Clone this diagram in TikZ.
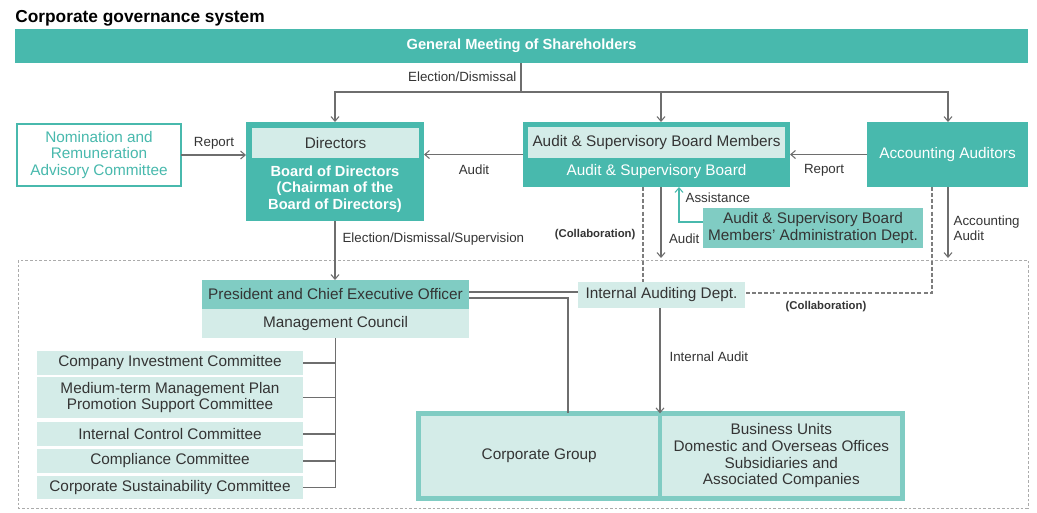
\documentclass[tikz,border=0pt]{standalone}
\usepackage{fontspec}
\setmainfont{Liberation Sans}
\usetikzlibrary{arrows.meta}
\definecolor{tealdark}{RGB}{72,185,173}
\definecolor{tealmid}{RGB}{128,204,195}
\definecolor{teallight}{RGB}{212,236,232}
\definecolor{textdark}{RGB}{52,52,52}
\definecolor{linegray}{RGB}{110,110,110}
\definecolor{dashgray}{RGB}{150,150,150}
\begin{document}
\begin{tikzpicture}[x=0.75pt, y=-0.75pt,
  box/.style={inner sep=0pt, outer sep=0pt, align=center, font=\fontsize{11.5}{12.5}\selectfont},
  dark/.style={box, fill=tealdark, text=white},
  light/.style={box, fill=teallight, text=textdark},
  mid/.style={box, fill=tealmid, text=textdark},
  lbl/.style={inner sep=1pt, text=textdark, align=left, font=\fontsize{10}{11}\selectfont},
  collab/.style={inner sep=1pt, text=textdark, font=\bfseries\fontsize{8.5}{10}\selectfont},
  line/.style={draw=linegray, line width=0.8pt},
  arr/.style={line, -{Straight Barb[length=3.5pt, width=6pt]}},
  assist/.style={draw=tealdark, line width=0.8pt, -{Straight Barb[length=3.5pt, width=6pt]}},
  collabline/.style={draw=linegray!90, line width=1.8pt, dash pattern=on 3pt off 1.6pt},
  region/.style={draw=dashgray!80, line width=0.5pt, dash pattern=on 2pt off 1.5pt}]
  \useasboundingbox (0,0) rectangle (1037,512);
  \node[anchor=base west, inner sep=0pt, text=black, font=\bfseries\fontsize{13}{15}\selectfont] (title) at (15,22) {Corporate governance system};
  \draw[region] (18,260) rectangle (1028,508);
  % top level
  \node[dark, font=\bfseries\fontsize{11}{12.5}\selectfont, minimum width=759.75pt, minimum height=25.5pt] (gm) at (521.5,46) {General Meeting of Shareholders};
  \node[box, draw=tealdark, line width=1.5pt, fill=white, text=tealdark, minimum width=123pt, minimum height=46.5pt] (nom) at (99,155) {Nomination and\\Remuneration\\Advisory Committee};
  \node[dark, minimum width=133.5pt, minimum height=74.25pt] (bod) at (335,171.5) {};
  \node[light, minimum width=125.25pt, minimum height=22.5pt] (dir) at (335.5,143) {Directors};
  \node[box, text=white, font=\bfseries\fontsize{11}{12.5}\selectfont] (bodtext) at (335,189) {Board of Directors\\(Chairman of the\\Board of Directors)};
  \node[dark, minimum width=200.25pt, minimum height=48.75pt] (asb) at (656.5,154.5) {};
  \node[light, minimum width=192.75pt, minimum height=23.25pt] (asbm) at (656.5,142.5) {Audit \& Supervisory Board Members};
  \node[box, text=white] (asbtext) at (656.5,172) {Audit \& Supervisory Board};
  \node[dark, minimum width=120.75pt, minimum height=48.75pt] (acc) at (947.5,154.5) {Accounting Auditors};
  \node[mid, minimum width=165pt, minimum height=30pt] (adm) at (813,228) {Audit \& Supervisory Board\\Members' Administration Dept.};
  % executive side
  \node[mid, minimum width=200.25pt, minimum height=21.75pt] (pres) at (335.5,294.5) {President and Chief Executive Officer};
  \node[light, minimum width=200.25pt, minimum height=21.75pt] (mc) at (335.5,323.5) {Management Council};
  \node[light, minimum width=125.25pt, minimum height=19.5pt] (iad) at (661.5,295) {Internal Auditing Dept.};
  \node[light, minimum width=199.5pt, minimum height=18pt] (cic) at (170,363) {Company Investment Committee};
  \node[light, minimum width=199.5pt, minimum height=30.75pt] (mtp) at (170,397.5) {Medium-term Management Plan\\Promotion Support Committee};
  \node[light, minimum width=199.5pt, minimum height=18pt] (icc) at (170,434) {Internal Control Committee};
  \node[light, minimum width=199.5pt, minimum height=18pt] (cc) at (170,461) {Compliance Committee};
  \node[light, minimum width=199.5pt, minimum height=17.25pt] (csc) at (170,487.5) {Corporate Sustainability Committee};
  \node[light, draw=tealmid, line width=3.5pt, minimum width=181.2pt, minimum height=64pt] (cg) at (539.2,456) {Corporate Group};
  \node[light, draw=tealmid, line width=3.5pt, minimum width=182pt, minimum height=64pt] (bu) at (781.3,456) {Business Units\\Domestic and Overseas Offices\\Subsidiaries and\\Associated Companies};
  % connectors
  \coordinate (ed) at (521,92);
  \draw[line] (gm.south -| ed) -- (ed);
  \draw[arr] (ed) -| (bod.north);
  \draw[arr] (ed) -| (661,0 |- asb.north);
  \draw[arr] (ed) -| (948,0 |- acc.north);
  \node[lbl, anchor=east] (edl) at (518,77) {Election/Dismissal};
  \draw[arr] (nom.east) -- (nom.east -| bod.west);
  \node[lbl] (rep1) at (214,143) {Report};
  \draw[arr] (asb.west) -- (asb.west -| bod.east);
  \node[lbl] (aud1) at (474,170) {Audit};
  \draw[arr] (acc.west) -- (acc.west -| asb.east);
  \node[lbl] (rep2) at (824,170) {Report};
  \draw[assist] (adm.west |- 0,222) -| (679,0 |- asb.south);
  \node[lbl, anchor=west] (asl) at (684,198) {Assistance};
  \coordinate (audend) at (661,258);
  \draw[arr] (661,0 |- asb.south) -- (audend);
  \node[lbl, anchor=east] (aud2) at (701,239) {Audit};
  \coordinate (accend) at (948,258);
  \draw[arr] (948,0 |- acc.south) -- (accend);
  \node[lbl, anchor=west] (accl) at (952,228) {Accounting\\Audit};
  \draw[collabline] (643,0 |- asb.south) -- (643,0 |- iad.north);
  \node[collab, anchor=east] (col1) at (637,235) {(Collaboration)};
  \draw[collabline] (932,0 |- acc.south) |- (iad.east |- 0,293);
  \node[collab] (col2) at (826,307) {(Collaboration)};
  \draw[arr] (bod.south) -- (bod.south |- pres.north);
  \node[lbl, anchor=west] (eds) at (341,239) {Election/Dismissal/Supervision};
  \draw[line] (pres.east |- 0,292) -- (iad.west |- 0,292);
  \draw[line] (pres.east |- 0,298) -| (568,0 |- cg.north);
  \draw[arr] (iad.south -| 660,0) -- (660,0 |- cg.north);
  \node[lbl, anchor=west] (ial) at (668,357) {Internal Audit};
  \draw[line] (mc.south) -- (mc.south |- csc.east);
  \foreach \c in {cic, mtp, icc, cc, csc}
    \draw[line] (\c.east) -- (\c.east -| mc.south);
\end{tikzpicture}
\end{document}
